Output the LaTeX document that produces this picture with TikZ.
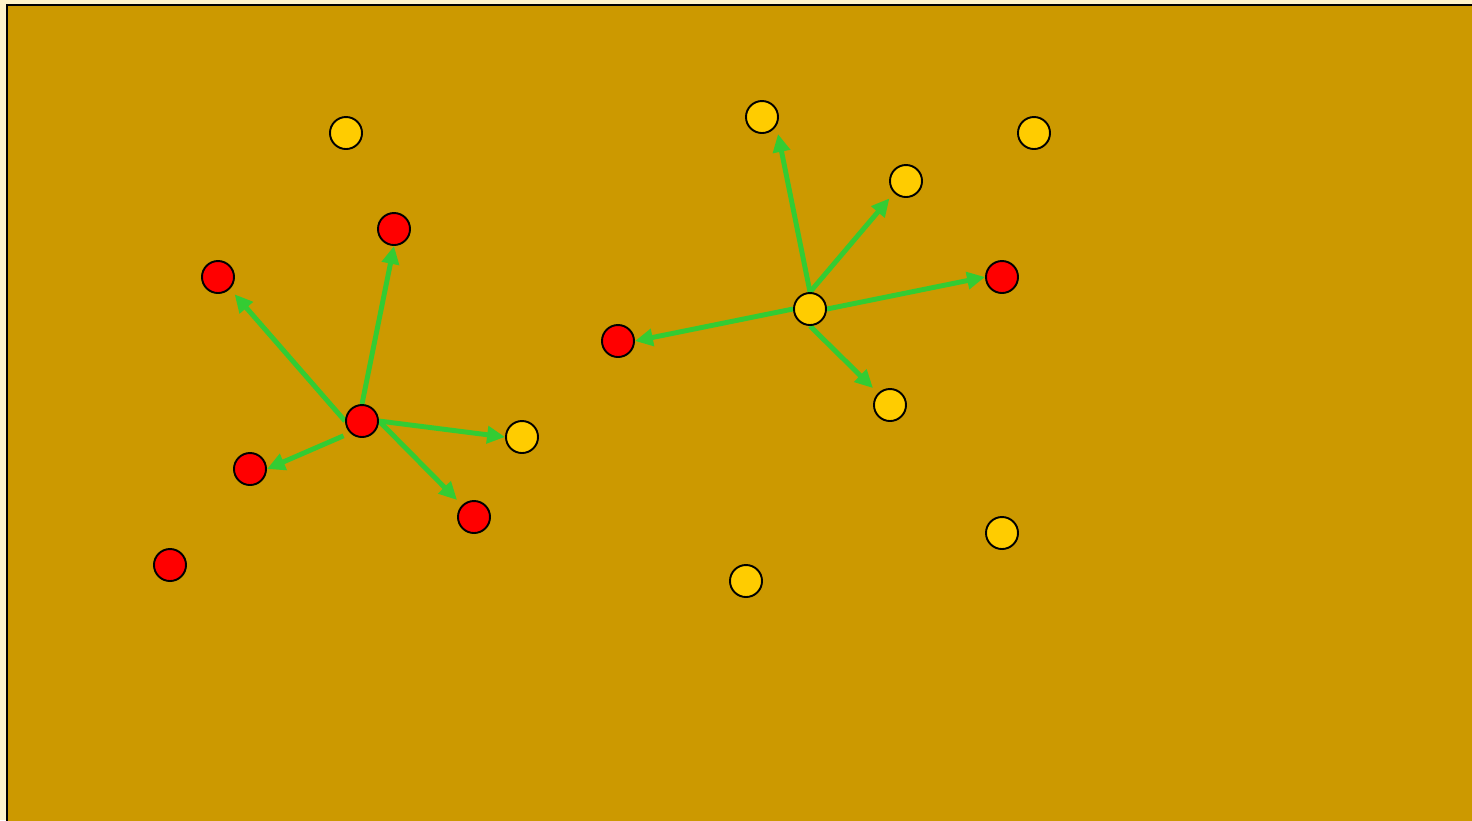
\documentclass[tikz,border=0pt]{standalone}
\usepackage{xcolor}
\usepackage{tikz}
\usetikzlibrary{arrows.meta}
\definecolor{pagecream}{HTML}{FFF3C8}
\definecolor{fieldgold}{HTML}{CC9900}
\definecolor{dotred}{HTML}{FF0000}
\definecolor{dotyellow}{HTML}{FFCC00}
\definecolor{pushgreen}{HTML}{33CC33}
\pgfdeclarelayer{back}
\pgfsetlayers{back,main}

\begin{document}
\begin{tikzpicture}[x=0.01cm, y=-0.01cm, >={Triangle[length=5.1pt,width=4.8pt]},
  reddot/.style={circle, draw, line width=0.55pt, fill=dotred, minimum size=0.32cm, inner sep=0pt},
  yeldot/.style={circle, draw, line width=0.55pt, fill=dotyellow, minimum size=0.32cm, inner sep=0pt},
  push/.style={->, pushgreen, line width=1.4pt}]
  \useasboundingbox (0,0) rectangle (1472,820);
  \begin{pgfonlayer}{back}
    \fill[pagecream] (0,0) rectangle (1472,820);
    \draw[fill=fieldgold, line width=0.6pt] (7,5) rectangle (1490,840);
  \end{pgfonlayer}

  % left group
  \node[reddot] (lc) at (362,421) {};
  \node[reddot] (l1) at (218,277) {};
  \node[reddot] (l2) at (394,229) {};
  \node[reddot] (l3) at (250,469) {};
  \node[reddot] (l4) at (474,517) {};
  \node[reddot] (l5) at (170,565) {};
  \node[yeldot] (l6) at (346,133) {};
  \node[yeldot] (l7) at (522,437) {};

  % right group
  \node[yeldot] (rc) at (810,309) {};
  \node[yeldot] (r1) at (762,117) {};
  \node[yeldot] (r2) at (906,181) {};
  \node[yeldot] (r3) at (1034,133) {};
  \node[yeldot] (r4) at (890,405) {};
  \node[yeldot] (r5) at (1002,533) {};
  \node[yeldot] (r6) at (746,581) {};
  \node[reddot] (r7) at (1002,277) {};
  \node[reddot] (r8) at (618,341) {};

  \begin{pgfonlayer}{back}
    \draw[push, shorten >=2pt] (lc.west) -- (l1.south east);
    \draw[push] (lc.north) -- (l2.south);
    \draw[push, shorten <=2pt] (lc.south west) -- (l3.east);
    \draw[push, shorten >=2pt] (lc.east) -- (l4.north west);
    \draw[push] (lc.east) -- (l7.west);

    \draw[push] (rc.north) -- ([xshift=0.16cm]r1.south);
    \draw[push, shorten >=2pt] (rc.north) -- (r2.south west);
    \draw[push] (rc.east) -- (r7.west);
    \draw[push, shorten >=2pt] (rc.south) -- (r4.north west);
    \draw[push] (rc.west) -- (r8.east);
  \end{pgfonlayer}
\end{tikzpicture}
\end{document}
